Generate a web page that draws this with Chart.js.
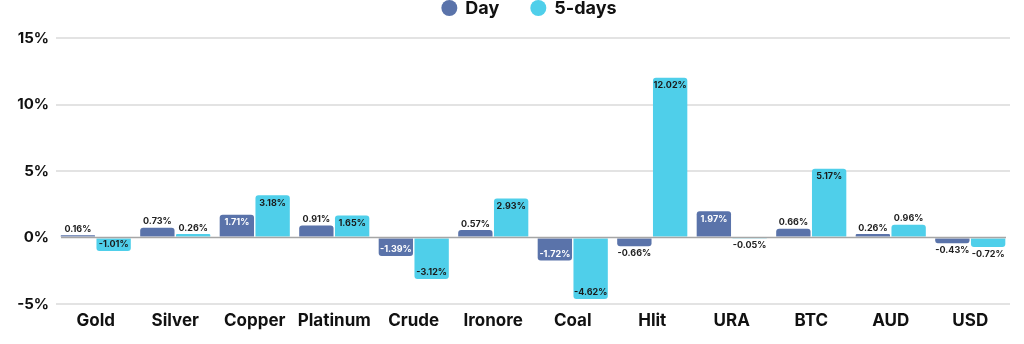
<!DOCTYPE html>
<html>
<head>
<meta charset="utf-8">
<script src="https://cdn.jsdelivr.net/npm/chart.js@4/dist/chart.umd.min.js"></script>
<style>
  html, body { margin: 0; padding: 0; background: #fff; }
  #wrap { width: 1024px; height: 344px; position: relative; }
</style>
</head>
<body>
<div id="wrap"><canvas id="c"></canvas></div>
<script>
// Daily and five-day moves per asset, in percent
const categories = ['Gold', 'Silver', 'Copper', 'Platinum', 'Crude', 'Ironore', 'Coal', 'Hlit', 'URA', 'BTC', 'AUD', 'USD'];
const dayValues = [0.16, 0.73, 1.71, 0.91, -1.39, 0.57, -1.72, -0.66, 1.97, 0.66, 0.26, -0.43];
const fiveDayValues = [-1.01, 0.26, 3.18, 1.65, -3.12, 2.93, -4.62, 12.02, -0.05, 5.17, 0.96, -0.72];
const seriesNames = ['Day', '5-days'];
const yMin = -5, yMax = 15, yStep = 5;

const FONT = 'Inter, "Open Sans", "DejaVu Sans", sans-serif';
const DAY_COLOR = '#5a73aa';
const FIVE_COLOR = '#4fcfea';

// Percentage labels: inside the bar end when it fits, outside otherwise
const valueLabels = {
  id: 'valueLabels',
  afterDatasetsDraw(chart) {
    const ctx = chart.ctx;
    ctx.save();
    ctx.font = '700 9px ' + FONT;
    ctx.textAlign = 'center';
    ctx.textBaseline = 'middle';
    chart.data.datasets.forEach((ds, di) => {
      const meta = chart.getDatasetMeta(di);
      meta.data.forEach((bar, i) => {
        const v = ds.data[i];
        const inside = Math.abs(v) >= 1;
        const up = v >= 0;
        let y;
        if (inside) y = up ? bar.y + 8 : bar.y - 6.5;
        else y = up ? bar.y - 6 : bar.y + 7;
        ctx.fillStyle = inside ? ds.insideLabelColor : '#222';
        ctx.fillText(v.toFixed(2) + '%', bar.x, y);
      });
    });
    ctx.restore();
  }
};

// Baseline at 0%
const zeroLine = {
  id: 'zeroLine',
  afterDatasetsDraw(chart) {
    const { ctx, chartArea, scales } = chart;
    const y = scales.y.getPixelForValue(0);
    ctx.save();
    ctx.strokeStyle = '#a6a6a6';
    ctx.lineWidth = 1.5;
    ctx.beginPath();
    ctx.moveTo(chartArea.left + 5, y);
    ctx.lineTo(chartArea.right - 4, y);
    ctx.stroke();
    ctx.restore();
  }
};

// Legend row with round markers
const topLegend = {
  id: 'topLegend',
  afterDraw(chart) {
    const { ctx, chartArea } = chart;
    ctx.save();
    ctx.font = '700 18px ' + FONT;
    ctx.textBaseline = 'middle';
    const r = 8, gapText = 8, gapItem = 31;
    const items = chart.data.datasets.map(ds => ({ text: ds.label, color: ds.backgroundColor, w: ctx.measureText(ds.label).width }));
    let total = 0;
    items.forEach((it, k) => { total += 2 * r + gapText + it.w + (k ? gapItem : 0); });
    let x = (chartArea.left + chartArea.right) / 2 - total / 2 - 4;
    const y = 8;
    items.forEach((it, k) => {
      if (k) x += gapItem;
      ctx.fillStyle = it.color;
      ctx.beginPath();
      ctx.arc(x + r, y, r, 0, Math.PI * 2);
      ctx.fill();
      x += 2 * r + gapText;
      ctx.fillStyle = '#111';
      ctx.fillText(it.text, x, y + 1);
      x += it.w;
    });
    ctx.restore();
  }
};

new Chart(document.getElementById('c'), {
  type: 'bar',
  data: {
    labels: categories,
    datasets: [
      { label: seriesNames[0], data: dayValues, backgroundColor: DAY_COLOR, insideLabelColor: '#ffffff', borderRadius: 3 },
      { label: seriesNames[1], data: fiveDayValues, backgroundColor: FIVE_COLOR, insideLabelColor: '#1a1a1a', borderRadius: 3 }
    ]
  },
  options: {
    responsive: true,
    maintainAspectRatio: false,
    animation: false,
    datasets: { bar: { categoryPercentage: 0.9, barPercentage: 0.96 } },
    layout: { padding: { top: 38, right: 14, left: 0, bottom: 0 } },
    plugins: { legend: { display: false }, tooltip: { enabled: false } },
    scales: {
      x: {
        grid: { display: false, drawTicks: false },
        border: { display: false },
        ticks: { color: '#111', font: { family: FONT, size: 17, weight: '700' }, padding: 7, maxRotation: 0 },
        afterFit(s) { s.height = 40; }
      },
      y: {
        min: yMin, max: yMax,
        ticks: { stepSize: yStep, color: '#111', padding: 7, font: { family: FONT, size: 15, weight: '700' }, callback: v => v + '%' },
        grid: { color: c => c.tick && c.tick.value === 0 ? 'rgba(0,0,0,0)' : '#e3e3e3', lineWidth: 2, drawTicks: false },
        border: { display: false },
        afterFit(s) { s.width = 56; }
      }
    }
  },
  plugins: [zeroLine, valueLabels, topLegend]
});
</script>
</body>
</html>
